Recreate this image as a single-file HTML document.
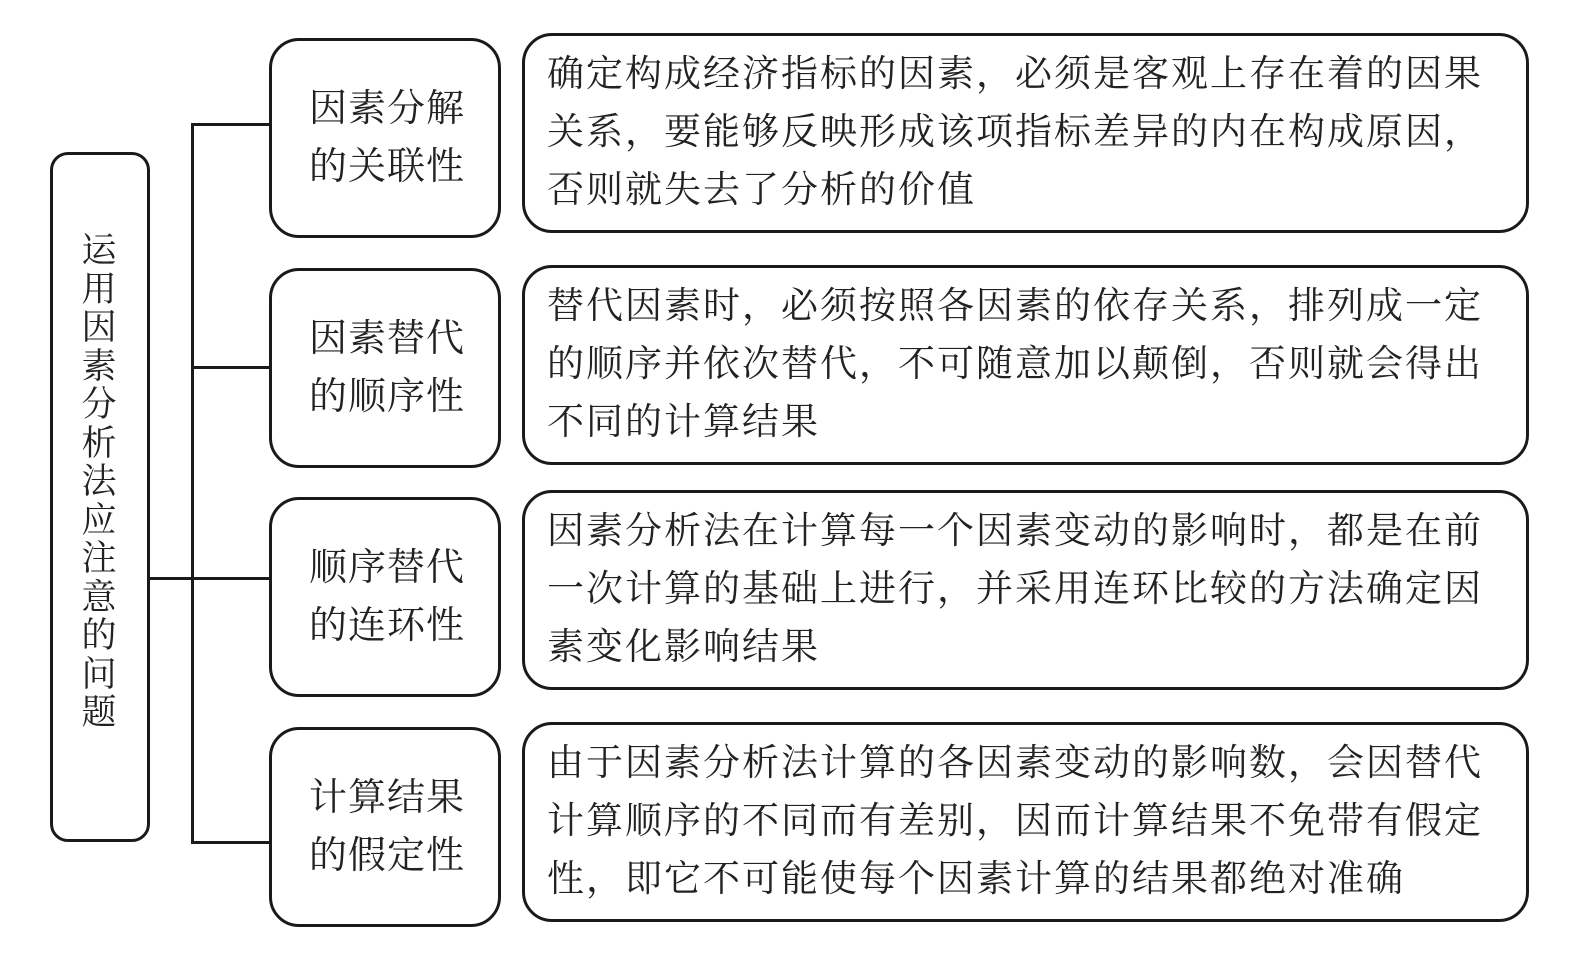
<!DOCTYPE html>
<html><head><meta charset="utf-8"><style>
body{margin:0;width:1579px;height:960px;background:#fff;position:relative;overflow:hidden;font-family:"Liberation Serif","Noto Serif CJK SC",serif;color:#222}
.b{position:absolute;border:3px solid #1a1a1a;border-radius:30px;box-sizing:border-box}
.l{position:absolute;background:#1a1a1a}
.m{font-size:38px;line-height:58px;padding-left:37px;display:flex;align-items:center;letter-spacing:1px}
.r{font-size:37px;line-height:58px;padding-left:22px;display:flex;align-items:center;letter-spacing:2px;white-space:nowrap}
.v{font-size:35px;line-height:38.5px;width:38px;text-align:center;position:absolute;left:80px;top:232px}
</style></head><body>
<div class="b" style="left:50px;top:152px;width:100px;height:690px;border-radius:18px"></div>
<div class="v">运<br>用<br>因<br>素<br>分<br>析<br>法<br>应<br>注<br>意<br>的<br>问<br>题</div>
<div class="l" style="left:150px;top:577px;width:43px;height:3px"></div>
<div class="l" style="left:191px;top:123px;width:3px;height:721px"></div>
<div class="l" style="left:191px;top:123px;width:80px;height:3px"></div>
<div class="l" style="left:191px;top:366px;width:80px;height:3px"></div>
<div class="l" style="left:191px;top:577px;width:80px;height:3px"></div>
<div class="l" style="left:191px;top:841px;width:80px;height:3px"></div>

<div class="b m" style="left:269px;top:38px;width:232px;height:200px">因素分解<br>的关联性</div>
<div class="b m" style="left:269px;top:268px;width:232px;height:200px">因素替代<br>的顺序性</div>
<div class="b m" style="left:269px;top:497px;width:232px;height:200px">顺序替代<br>的连环性</div>
<div class="b m" style="left:269px;top:727px;width:232px;height:200px">计算结果<br>的假定性</div>

<div class="b r" style="left:522px;top:33px;width:1007px;height:200px"><div>确定构成经济指标的因素，必须是客观上存在着的因果<br>关系，要能够反映形成该项指标差异的内在构成原因，<br>否则就失去了分析的价值</div></div>
<div class="b r" style="left:522px;top:265px;width:1007px;height:200px"><div>替代因素时，必须按照各因素的依存关系，排列成一定<br>的顺序并依次替代，不可随意加以颠倒，否则就会得出<br>不同的计算结果</div></div>
<div class="b r" style="left:522px;top:490px;width:1007px;height:200px"><div>因素分析法在计算每一个因素变动的影响时，都是在前<br>一次计算的基础上进行，并采用连环比较的方法确定因<br>素变化影响结果</div></div>
<div class="b r" style="left:522px;top:722px;width:1007px;height:200px"><div>由于因素分析法计算的各因素变动的影响数，会因替代<br>计算顺序的不同而有差别，因而计算结果不免带有假定<br>性，即它不可能使每个因素计算的结果都绝对准确</div></div>
</body></html>
